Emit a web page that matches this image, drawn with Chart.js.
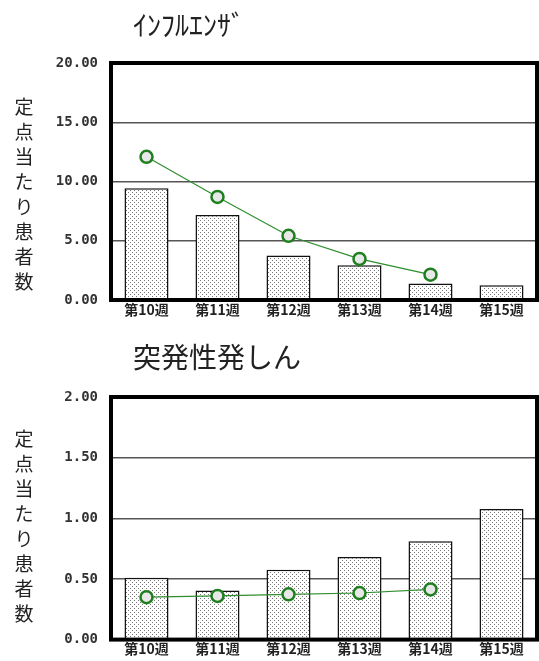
<!DOCTYPE html>
<html>
<head>
<meta charset="utf-8">
<script src="https://cdn.jsdelivr.net/npm/chart.js@4"></script>
<style>
  html, body { margin: 0; background: #fff; overflow: hidden; }
  .box { position: relative; width: 539px; }
</style>
</head>
<body>
<div class="box" style="height:330px"><canvas id="flu"></canvas></div>
<div class="box" style="height:331px"><canvas id="roseola"></canvas></div>
<script>
// data
const weeks = ['第10週', '第11週', '第12週', '第13週', '第14週', '第15週'];
const fluBars = [9.42, 7.17, 3.75, 2.94, 1.39, 1.25];
const fluLine = [12.08, 8.7, 5.42, 3.47, 2.14, null];
const roseolaBars = [0.51, 0.405, 0.576, 0.68, 0.81, 1.076];
const roseolaLine = [0.35, 0.36, 0.373, 0.384, 0.414, null];
const yTitle = '定点当たり患者数';

// dotted fill like the old bitmap chart
function dots() {
  const c = document.createElement('canvas');
  c.width = 4; c.height = 4;
  const g = c.getContext('2d');
  g.fillStyle = '#fff';
  g.fillRect(0, 0, 4, 4);
  g.fillStyle = '#777';
  g.fillRect(0, 0, 1, 1);
  g.fillRect(2, 2, 1, 1);
  return g.createPattern(c, 'repeat');
}

const decor = {
  id: 'decor',
  afterDraw(chart, args, o) {
    const { ctx, chartArea: a } = chart;
    ctx.save();
    ctx.lineWidth = 4;
    ctx.strokeStyle = '#000';
    ctx.strokeRect(a.left, a.top, a.right - a.left, a.bottom - a.top);
    ctx.fillStyle = '#222';
    ctx.textBaseline = 'middle';
    ctx.font = '28px "Noto Sans CJK JP"';
    ctx.fillText(o.title, 133, o.titleY);
    ctx.font = '19px "Noto Sans CJK JP"';
    ctx.textAlign = 'center';
    [...yTitle].forEach((ch, i) => ctx.fillText(ch, 24, o.yTop + i * 25));
    ctx.restore();
  }
};

function makeChart(id, bars, line, max, step, top, xh, title, titleY, yTop) {
  new Chart(document.getElementById(id), {
    type: 'bar',
    data: {
      labels: weeks,
      datasets: [
        {
          type: 'line',
          data: line,
          order: 0,
          borderColor: '#2e8f2e',
          borderWidth: 1.2,
          pointRadius: 6,
          pointBorderWidth: 2.5,
          pointBorderColor: '#1f7f1f',
          pointBackgroundColor: '#e8e8e8',
          spanGaps: false
        },
        {
          data: bars,
          order: 1,
          backgroundColor: dots(),
          borderColor: '#111',
          borderWidth: 1.5,
          categoryPercentage: 1,
          barPercentage: 0.62
        }
      ]
    },
    options: {
      responsive: true,
      maintainAspectRatio: false,
      animation: false,
      layout: { autoPadding: false, padding: { top: top, right: 2, left: 0, bottom: 0 } },
      plugins: {
        legend: { display: false },
        tooltip: { enabled: false },
        decor: { title: title, titleY: titleY, yTop: yTop }
      },
      scales: {
        x: {
          afterFit(s) { s.height = xh; },
          grid: { display: false, drawTicks: false },
          border: { display: false },
          ticks: {
            padding: 1,
            color: '#222',
            font: { family: '"Noto Sans CJK JP"', size: 14, weight: 'bold' }
          }
        },
        y: {
          min: 0,
          max: max,
          afterFit(s) { s.width = 111; },
          border: { display: false },
          grid: { color: '#555', lineWidth: 1.5, drawTicks: false },
          ticks: {
            stepSize: step,
            padding: 13,
            color: '#333',
            font: { family: '"DejaVu Sans Mono"', size: 14, weight: 'bold' },
            callback: v => v.toFixed(2)
          }
        }
      }
    },
    plugins: [decor]
  });
}

makeChart('flu', fluBars, fluLine, 20, 5, 63, 30, 'ｲﾝﾌﾙｴﾝｻﾞ', 25, 107);
makeChart('roseola', roseolaBars, roseolaLine, 2, 0.5, 67, 21, '突発性発しん', 27, 109);
</script>
</body>
</html>
